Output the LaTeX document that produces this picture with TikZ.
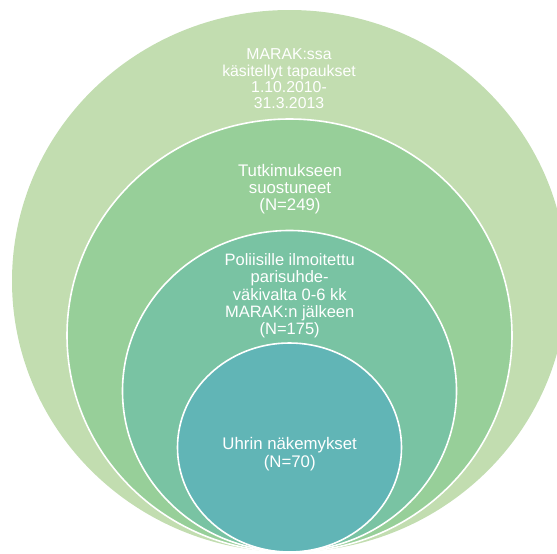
\documentclass[tikz,border=0pt]{standalone}
\usepackage{fontspec}
\setmainfont{Liberation Sans}
\usetikzlibrary{shapes.geometric}
\definecolor{cOne}{HTML}{C2DDB0}
\definecolor{cTwo}{HTML}{97CF99}
\definecolor{cThree}{HTML}{79C3A3}
\definecolor{cFour}{HTML}{61B5B6}
\tikzset{
  ring/.style={ellipse, inner sep=0pt, outer sep=0pt, draw=white, line width=1.6pt},
  lbl/.style={text=white, align=center, inner sep=0pt}
}
\begin{document}
\begin{tikzpicture}[x=1pt,y=-1pt]
\useasboundingbox (0,0) rectangle (557,554);
\node[ring, draw=none, fill=cOne, minimum width=555pt, minimum height=542pt] (c1) at (289.5,281) {};
\node[ring, fill=cTwo, minimum width=445pt, minimum height=433pt] (c2) at (289.5,335.5) {};
\node[ring, fill=cThree, minimum width=334pt, minimum height=321pt] (c3) at (289.5,391) {};
\node[ring, fill=cFour, minimum width=224pt, minimum height=209pt] (c4) at (289.5,447.5) {};
\node[lbl, font=\fontsize{15.8}{16.3}\selectfont] (t1) at (289,79) {MARAK:ssa\\käsitellyt tapaukset\\1.10.2010-\\31.3.2013};
\node[lbl, font=\fontsize{16.8}{17}\selectfont] (t2) at (290,189.5) {Tutkimukseen\\suostuneet\\(N=249)};
\node[lbl, font=\fontsize{16.5}{17.3}\selectfont] (t3) at (289.7,296) {Poliisille ilmoitettu\\parisuhde-\\väkivalta 0-6 kk\\MARAK:n jälkeen\\(N=175)};
\node[lbl, font=\fontsize{16.8}{17.7}\selectfont] (t4) at (289.7,454) {Uhrin näkemykset\\(N=70)};
\end{tikzpicture}
\end{document}
